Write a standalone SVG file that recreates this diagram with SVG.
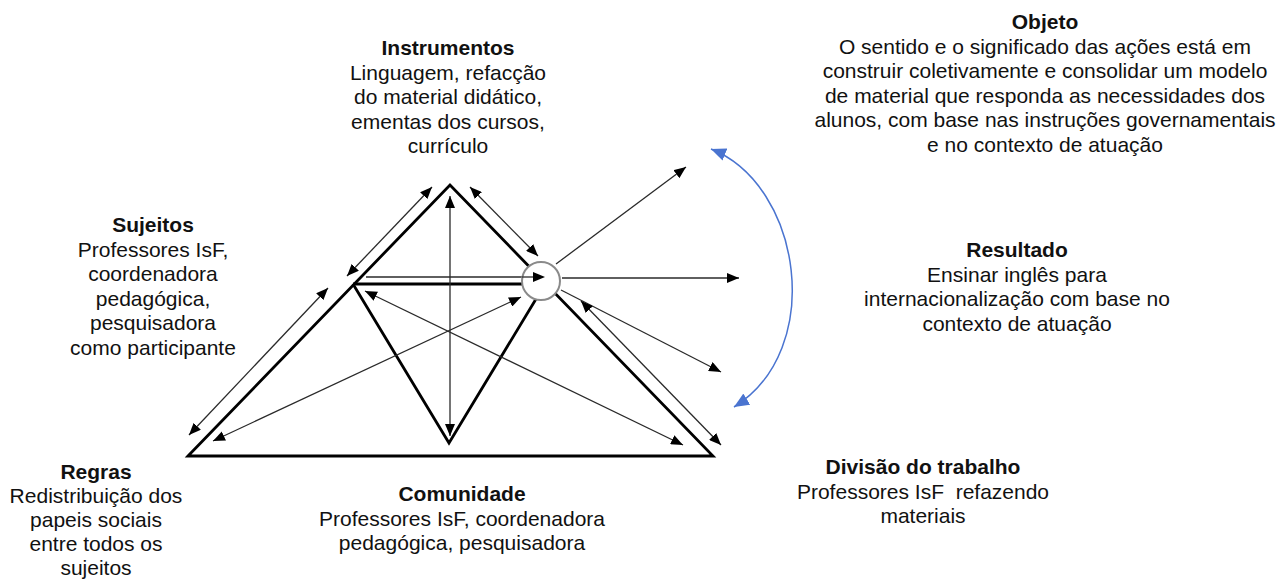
<svg xmlns="http://www.w3.org/2000/svg" width="1282" height="580" viewBox="0 0 1282 580">
<style>
text{font-family:"Liberation Sans",Arial,sans-serif;font-size:21px;fill:#111;text-anchor:middle}
.b{font-weight:bold}
.thick{fill:none;stroke:#000;stroke-width:2.8;stroke-linejoin:miter}
.a{fill:none;stroke:#2a2a2a;stroke-width:1.3;marker-end:url(#ah)}
.d{marker-start:url(#ah)}
.blue{fill:none;stroke:#4a74d0;stroke-width:1.5;marker-start:url(#bh);marker-end:url(#bh)}
</style>
<defs>
<marker id="ah" markerUnits="userSpaceOnUse" markerWidth="13" markerHeight="10" refX="12" refY="5" orient="auto-start-reverse"><path d="M0,0 L12,5 L0,10 z" fill="#000"/></marker>
<marker id="bh" markerUnits="userSpaceOnUse" markerWidth="16" markerHeight="13" refX="15" refY="6.5" orient="auto-start-reverse"><path d="M0,0 L15,6.5 L0,13 z" fill="#4a74d0"/></marker>
</defs>
<rect width="1282" height="580" fill="#fff"/>
<g id="triangle">
<path class="thick" d="M188,456 L450,185 L713,456 Z"/>
<path class="thick" d="M353,284 L522,284"/>
<path class="thick" d="M353,284 L449,443 L536,299"/>
</g>
<g id="connectors">
<line class="a d" x1="432" y1="187" x2="347" y2="276"/>
<line class="a d" x1="328" y1="288" x2="189" y2="435"/>
<line class="a d" x1="470" y1="187" x2="538" y2="256"/>
<line class="a d" x1="450" y1="196" x2="450" y2="436"/>
<line class="a" x1="366" y1="277" x2="545" y2="277"/>
<line class="a d" x1="521" y1="297" x2="213" y2="441"/>
<line class="a d" x1="365" y1="291" x2="683" y2="445"/>
<line class="a" x1="556" y1="264" x2="686" y2="167"/>
<line class="a" x1="562" y1="278" x2="739" y2="278"/>
<line class="a" x1="561" y1="290" x2="721" y2="372"/>
<line class="a d" x1="581" y1="301" x2="721" y2="445"/>
<path class="blue" d="M711,149 C802,185 826,350 734,407"/>
</g>
<g id="node-object-circle">
<circle cx="541" cy="281" r="19" fill="#fff" stroke="#8a8a8a" stroke-width="2"/>
<line x1="522" y1="277" x2="533" y2="277" stroke="#2a2a2a" stroke-width="1.3"/>
<path d="M533,272 L545,277 L533,282 z" fill="#000"/>
</g>
<g id="node-instrumentos">
<text x="448" y="55"><tspan class="b">Instrumentos</tspan><tspan x="448" dy="24.5">Linguagem, refacção</tspan><tspan x="448" dy="24.5">do material didático,</tspan><tspan x="448" dy="24.5">ementas dos cursos,</tspan><tspan x="448" dy="24.5">currículo</tspan></text>
</g>
<g id="node-objeto">
<text x="1045" y="29"><tspan class="b">Objeto</tspan><tspan x="1045" dy="24.6">O sentido e o significado das ações está em</tspan><tspan x="1045" dy="24.6">construir coletivamente e consolidar um modelo</tspan><tspan x="1045" dy="24.6">de material que responda as necessidades dos</tspan><tspan x="1045" dy="24.6">alunos, com base nas instruções governamentais</tspan><tspan x="1045" dy="24.6">e no contexto de atuação</tspan></text>
</g>
<g id="node-sujeitos">
<text x="153" y="232"><tspan class="b">Sujeitos</tspan><tspan x="153" dy="24.5">Professores IsF,</tspan><tspan x="153" dy="24.5">coordenadora</tspan><tspan x="153" dy="24.5">pedagógica,</tspan><tspan x="153" dy="24.5">pesquisadora</tspan><tspan x="153" dy="24.5">como participante</tspan></text>
</g>
<g id="node-resultado">
<text x="1017" y="257"><tspan class="b">Resultado</tspan><tspan x="1017" dy="24.5">Ensinar inglês para</tspan><tspan x="1017" dy="24.5">internacionalização com base no</tspan><tspan x="1017" dy="24.5">contexto de atuação</tspan></text>
</g>
<g id="node-regras">
<text x="96" y="479"><tspan class="b">Regras</tspan><tspan x="96" dy="24">Redistribuição dos</tspan><tspan x="96" dy="24">papeis sociais</tspan><tspan x="96" dy="24">entre todos os</tspan><tspan x="96" dy="23.5">sujeitos</tspan></text>
</g>
<g id="node-comunidade">
<text x="462" y="501"><tspan class="b">Comunidade</tspan><tspan x="462" dy="24.5">Professores IsF, coordenadora</tspan><tspan x="462" dy="24.5">pedagógica, pesquisadora</tspan></text>
</g>
<g id="node-divisao">
<text x="923" y="474"><tspan class="b">Divisão do trabalho</tspan><tspan x="923" dy="24.5" xml:space="preserve">Professores IsF  refazendo</tspan><tspan x="923" dy="24.5">materiais</tspan></text>
</g>
</svg>
